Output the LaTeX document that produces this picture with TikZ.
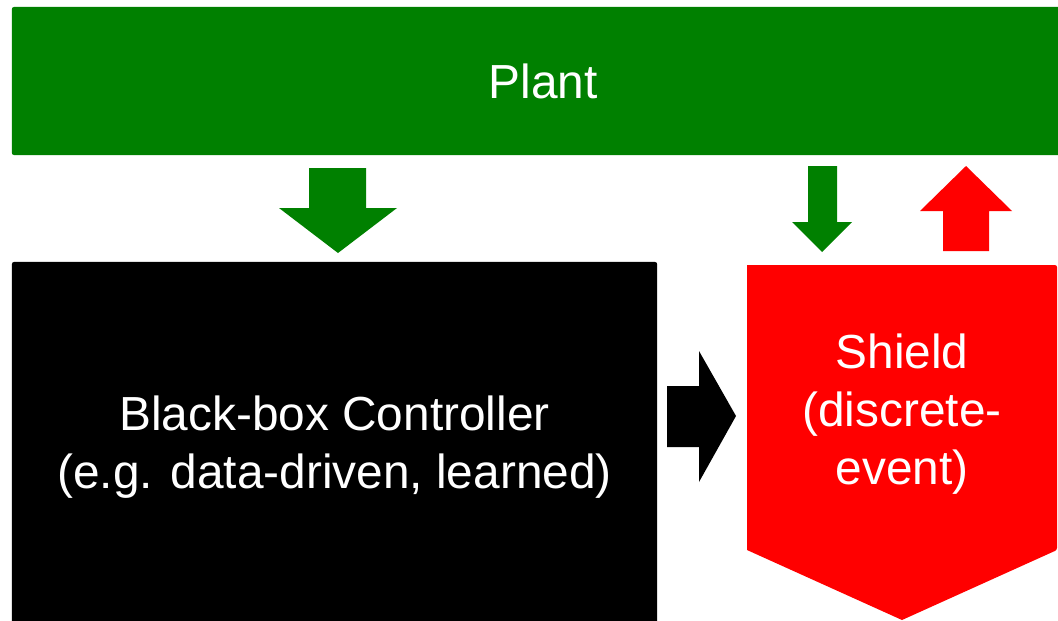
\documentclass[tikz,border=0pt]{standalone}
\usepackage{fontspec}
\setmainfont{Liberation Sans}
\usepackage{tikz}
\usetikzlibrary{positioning}

\definecolor{plantgreen}{RGB}{0,128,0}
\definecolor{shieldred}{RGB}{255,0,0}

\begin{document}
\begin{tikzpicture}[x=0.025cm, y=-0.025cm]
		\tikzstyle{block} = [inner sep = 0pt, outer sep = 0pt, rounded corners = 1.5pt]
		\tikzstyle{boxtext} = [text = white, align = center, font = \fontsize{34}{41.5}\selectfont]
		\useasboundingbox (0, 0) rectangle (1058, 620);
	% Bloques
		\node[block, fill = plantgreen, minimum width = 26.55cm, minimum height = 3.7cm, boxtext](plant) at (543, 81) {Plant};
		\node[block, fill = black, minimum width = 16.125cm, minimum height = 9.25cm, boxtext](ctrl) at (334.5, 447) {Black-box Controller\\(e.g. data-driven, learned)};
		\fill[shieldred, rounded corners = 1.5pt] (747, 265) -- (1057, 265) -- (1057, 550) [sharp corners] -- (902, 620) -- (747, 550) -- cycle;
		\node[boxtext](shield) at (902, 414) {Shield\\(discrete-\\event)};

	% Flechas
		\fill[plantgreen] (309, 168) -- (366, 168) -- (366, 208) -- (397, 208) -- (338, 253) -- (279, 208) -- (309, 208) -- cycle;
		\fill[plantgreen] (808, 166) -- (837, 166) -- (837, 222) -- (852, 222) -- (822, 252) -- (792, 222) -- (808, 222) -- cycle;
		\fill[shieldred] (943, 251) -- (989, 251) -- (989, 211) -- (1012, 211) -- (966, 166) -- (920, 211) -- (943, 211) -- cycle;
		\fill[black] (667, 386) -- (699, 386) -- (699, 351) -- (736, 416) -- (699, 482) -- (699, 447) -- (667, 447) -- cycle;

	\end{tikzpicture}
\end{document}
